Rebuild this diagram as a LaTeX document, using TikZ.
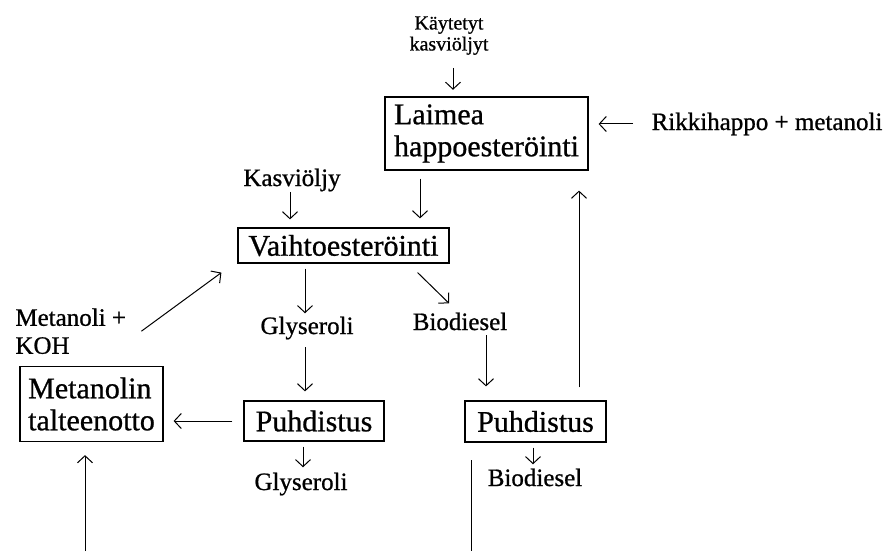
\documentclass[tikz,border=0pt]{standalone}
\usepackage{fontspec}
\setmainfont[FakeBold=0.8]{Liberation Serif}
\usepackage{tikz}
\usetikzlibrary{arrows.meta}

\newcommand\boxfont{\fontsize{15}{16}\selectfont}
\newcommand\lblfont{\fontsize{12.5}{14}\selectfont}
\newcommand\topfont{\fontsize{10}{10.5}\selectfont}

\begin{document}
\begin{tikzpicture}[x=0.5pt, y=-0.5pt, flow/.style={-{Straight Barb[length=3.5pt, width=7.5pt]}, line width=0.5pt},
        stage/.style={draw, line width=0.6pt, font=\boxfont, inner sep=0pt, align=left},
        lbl/.style={font=\lblfont, inner sep=0pt, align=left}]
        \useasboundingbox (0,0) rectangle (892,551);

        % process boxes
        \node[stage, minimum width=101.5pt, minimum height=36.5pt] (laimea) at (486.5,133.5) {Laimea\\happoesteröinti};
        \node[stage, minimum width=105.5pt, minimum height=17.5pt] (vaihto) at (343.5,245.5) {Vaihtoesteröinti};
        \node[stage, minimum width=70pt, minimum height=20pt] (puh1) at (314,421) {Puhdistus};
        \node[stage, minimum width=70.5pt, minimum height=20.5pt] (puh2) at (535.5,421.5) {Puhdistus};
        \node[stage, minimum width=71.5pt, minimum height=37.5pt] (met) at (91.5,404) {Metanolin\\talteenotto};

        % inputs and outputs
        \node[lbl, font=\topfont, align=center, anchor=north] (kaytetyt) at (449,16) {Käytetyt\\kasviöljyt};
        \node[lbl, anchor=base] (rikki) at (767,130) {Rikkihappo + metanoli};
        \node[lbl, anchor=base] (kasvi) at (292,186) {Kasviöljy};
        \node[lbl, anchor=north west] (metkoh) at (15,308) {Metanoli +\\KOH};
        \node[lbl, anchor=base] (glys1) at (307,334) {Glyseroli};
        \node[lbl, anchor=base] (bio1) at (460,330) {Biodiesel};
        \node[lbl, anchor=base] (glys2) at (301,490) {Glyseroli};
        \node[lbl, anchor=base] (bio2) at (535,486) {Biodiesel};
        \coordinate (metin) at (85,551);
        \coordinate (cut1) at (471,460);
        \coordinate (cut2) at (471,551);

        \draw[flow, shorten <=6.3pt, shorten >=3.3pt] ([xshift=2pt]kaytetyt.south) -- ([xshift=2pt]kaytetyt.south |- laimea.north);
        \draw[flow, shorten <=9pt, shorten >=5pt] (rikki.west) -- (rikki.west -| laimea.east);
        \draw[flow, shorten <=4pt, shorten >=4.5pt] ([xshift=-33.25pt]laimea.south) -- ([xshift=-33.25pt]laimea.south |- vaihto.north);
        \draw[flow, shorten >=4pt] ([xshift=-1pt]kasvi.south) -- ([xshift=-1pt]kasvi.south |- vaihto.north);
        \draw[flow] ([xshift=7.5pt]metkoh.east) -- ([shift={(-16,9)}]vaihto.south west);
        \draw[flow, shorten <=2.5pt, shorten >=1.5pt] ([xshift=-1pt]glys1.north |- vaihto.south) -- ([xshift=-1pt]glys1.north);
        \draw[flow] ([shift={(-32,9)}]vaihto.south east) -- ([shift={(-11,-9)}]bio1.north);
        \draw[flow, shorten <=2.3pt, shorten >=7pt] ([xshift=13pt]bio1.south) -- ([xshift=13pt]bio1.south |- puh2.north);
        \draw[flow, shorten <=6.5pt, shorten >=10pt] ([xshift=21.75pt]puh2.north) -- ([xshift=21.75pt]puh2.north |- laimea.south);
        \draw[flow, shorten <=3.8pt, shorten >=4.5pt] ([xshift=-1pt]glys1.south) -- ([xshift=-1pt]glys1.south |- puh1.north);
        \draw[flow, shorten <=5.5pt, shorten >=5pt] (puh1.west) -- (puh1.west -| met.east);
        \draw[flow, shorten >=6.5pt] (metin) -- (metin |- met.south);
        \draw[flow, shorten <=2.5pt, shorten >=2.5pt] ([xshift=1pt]glys2.north |- puh1.south) -- ([xshift=1pt]glys2.north);
        \draw[flow, shorten <=2.5pt, shorten >=2pt] ([xshift=-1pt]bio2.north |- puh2.south) -- ([xshift=-1pt]bio2.north);
        \draw[line width=0.5pt] (cut1) -- (cut2);
\end{tikzpicture}
\end{document}
